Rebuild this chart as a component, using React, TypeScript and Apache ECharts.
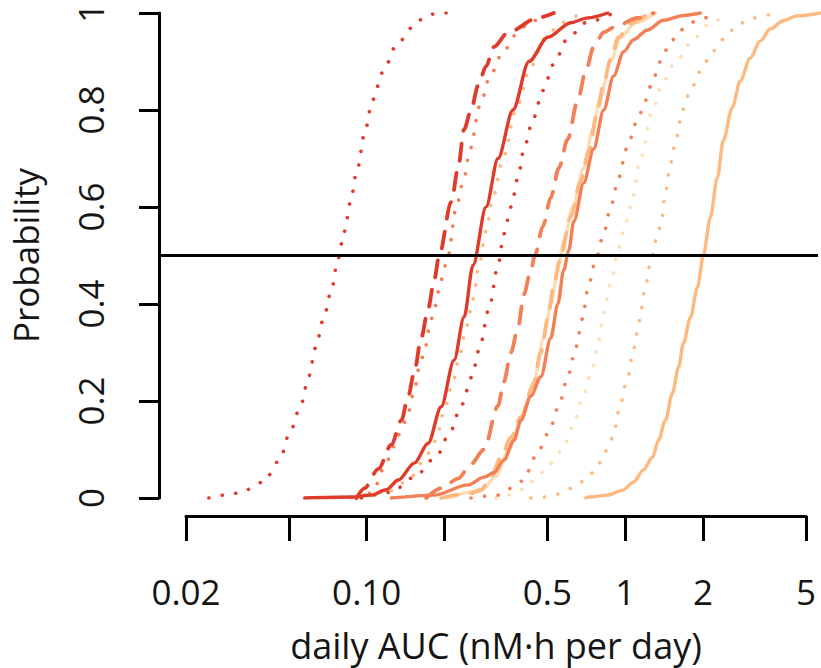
import React, { useEffect, useRef } from "react";
import * as echarts from "echarts";

// ---- axis ticks / labels ----
const xTickValues = [0.02, 0.05, 0.1, 0.2, 0.5, 1, 2, 5];
const xLabelValues = [0.02, 0.1, 0.5, 1, 2, 5];
const xLabelTexts = ["0.02", "0.10", "0.5", "1", "2", "5"];
const yTickValues = [0, 0.2, 0.4, 0.6, 0.8, 1];
const xMin = 0.01563;
const xMax = 5.627;

// ---- curves: daily AUC (x) and probability (y) ----
const aucA = [0.0244, 0.0319, 0.0398, 0.0459, 0.0502, 0.0554, 0.0595, 0.0633, 0.068, 0.073, 0.077, 0.0819, 0.0864, 0.0912, 0.0988, 0.105, 0.116, 0.129, 0.15, 0.166, 0.186, 0.214];
const probA = [0, 0.01, 0.033, 0.078, 0.134, 0.19, 0.25, 0.31, 0.37, 0.43, 0.49, 0.55, 0.61, 0.67, 0.76, 0.82, 0.88, 0.93, 0.97, 0.99, 1, 1];

const aucB = [0.0912, 0.0979, 0.1109, 0.1245, 0.1361, 0.1448, 0.1528, 0.1626, 0.173, 0.1826, 0.1909, 0.2125, 0.2261, 0.2384, 0.2538, 0.2701, 0.2901, 0.3113, 0.3528, 0.4609, 0.5315];
const probB = [0, 0.02, 0.06, 0.11, 0.16, 0.21, 0.26, 0.33, 0.39, 0.45, 0.5, 0.61, 0.68, 0.76, 0.8, 0.85, 0.89, 0.93, 0.96, 0.99, 1];

const aucC = [0.0912, 0.1042, 0.1212, 0.1325, 0.1422, 0.1528, 0.1597, 0.167, 0.1762, 0.1826, 0.1943, 0.2068, 0.2221, 0.2384, 0.2516, 0.275, 0.3006, 0.3375, 0.3857, 0.4254, 0.495];
const probC = [0, 0.01, 0.08, 0.13, 0.16, 0.22, 0.27, 0.3, 0.36, 0.39, 0.45, 0.5, 0.6, 0.66, 0.72, 0.81, 0.87, 0.92, 0.96, 0.98, 1];

const aucD = [0.0574, 0.0872, 0.1042, 0.1191, 0.1325, 0.1528, 0.173, 0.1943, 0.218, 0.2384, 0.2584, 0.2901, 0.3228, 0.3689, 0.4254, 0.5038, 0.618, 0.719, 0.86];
const probD = [0, 0.002, 0.006, 0.017, 0.037, 0.072, 0.113, 0.188, 0.284, 0.373, 0.48, 0.6, 0.7, 0.8, 0.9, 0.95, 0.98, 0.99, 1];

const aucE = [0.0872, 0.1245, 0.1488, 0.1626, 0.1746, 0.186, 0.1995, 0.2163, 0.2281, 0.2427, 0.2584, 0.2725, 0.2901, 0.3087, 0.3375, 0.3789, 0.433, 0.495, 0.5655, 0.676];
const probE = [0, 0.015, 0.043, 0.072, 0.093, 0.12, 0.18, 0.24, 0.29, 0.35, 0.41, 0.48, 0.55, 0.62, 0.7, 0.8, 0.89, 0.95, 0.98, 1];

const aucF = [0.0953, 0.1245, 0.1528, 0.186, 0.2105, 0.2322, 0.2561, 0.2725, 0.2979, 0.3228, 0.3405, 0.3624, 0.3857, 0.4069, 0.4407, 0.4819, 0.5315, 0.5967, 0.7067, 0.9068];
const probF = [0, 0.012, 0.043, 0.085, 0.136, 0.19, 0.25, 0.305, 0.39, 0.48, 0.545, 0.6, 0.66, 0.72, 0.78, 0.84, 0.895, 0.945, 0.98, 1];

const aucG = [0.17, 0.1943, 0.2261, 0.2538, 0.2849, 0.3228, 0.3405, 0.3624, 0.3857, 0.4069, 0.433, 0.4487, 0.4819, 0.5174, 0.5556, 0.602, 0.658, 0.7067, 0.7587, 0.8294, 0.9068, 1.123, 1.295];
const probG = [0, 0.02, 0.04, 0.07, 0.1, 0.19, 0.24, 0.3, 0.35, 0.42, 0.47, 0.5, 0.56, 0.62, 0.68, 0.74, 0.82, 0.88, 0.93, 0.96, 0.97, 0.99, 1];

const aucH = [0.1943, 0.2538, 0.2774, 0.3033, 0.3315, 0.3624, 0.3962, 0.4407, 0.4733, 0.5038, 0.5315, 0.5655, 0.618, 0.676, 0.7258, 0.7863, 0.8294, 0.8828, 0.948, 1.055, 1.227, 1.341];
const probH = [0, 0.01, 0.017, 0.043, 0.084, 0.125, 0.167, 0.23, 0.3, 0.37, 0.44, 0.5, 0.58, 0.655, 0.715, 0.8, 0.855, 0.905, 0.95, 0.978, 0.995, 1];

const aucI = [0.1245, 0.1826, 0.2471, 0.2849, 0.3113, 0.3405, 0.3722, 0.3962, 0.433, 0.4733, 0.5174, 0.5507, 0.5808, 0.6074, 0.635, 0.6943, 0.7587, 0.8294, 0.9068, 0.9911, 1.083, 1.227, 1.415, 1.691, 1.967];
const probI = [0, 0.006, 0.027, 0.043, 0.052, 0.078, 0.119, 0.16, 0.21, 0.25, 0.33, 0.4, 0.47, 0.51, 0.57, 0.65, 0.72, 0.8, 0.87, 0.92, 0.945, 0.965, 0.985, 0.995, 1];

const aucN = [0.2032, 0.2774, 0.317, 0.3559, 0.3962, 0.4446, 0.4862, 0.5174, 0.5507, 0.5808, 0.6294, 0.6943, 0.7519, 0.8077, 0.8828, 0.965, 1.103, 1.318];
const probN = [0, 0.015, 0.045, 0.1, 0.16, 0.24, 0.33, 0.4, 0.47, 0.53, 0.6, 0.68, 0.76, 0.83, 0.9, 0.95, 0.98, 1];

const aucJ = [0.2538, 0.3228, 0.4033, 0.4527, 0.5084, 0.5556, 0.602, 0.6463, 0.6878, 0.719, 0.7725, 0.8294, 0.8828, 0.948, 1.018, 1.123, 1.206, 1.283, 1.378, 1.506, 1.647, 1.916, 2.249];
const probJ = [0, 0.006, 0.035, 0.086, 0.135, 0.19, 0.25, 0.31, 0.37, 0.43, 0.49, 0.545, 0.6, 0.66, 0.72, 0.78, 0.82, 0.86, 0.9, 0.94, 0.965, 0.985, 1];

const aucK = [0.317, 0.3528, 0.4033, 0.4819, 0.5655, 0.635, 0.6878, 0.7455, 0.7931, 0.8294, 0.8828, 0.9395, 0.9911, 1.055, 1.153, 1.283, 1.415, 1.575, 1.882, 2.15, 2.524];
const probK = [0, 0.006, 0.018, 0.053, 0.095, 0.15, 0.208, 0.263, 0.323, 0.383, 0.442, 0.505, 0.55, 0.6, 0.7, 0.8, 0.86, 0.9, 0.95, 0.98, 1];

const aucL = [0.433, 0.4862, 0.5507, 0.6237, 0.6943, 0.7587, 0.8148, 0.86, 0.9068, 0.9565, 1.027, 1.083, 1.143, 1.195, 1.26, 1.341, 1.39, 1.44, 1.506, 1.589, 1.676, 1.8, 1.967, 2.189, 2.415, 2.76, 3.154, 3.605, 4.011];
const probL = [0, 0.002, 0.008, 0.02, 0.035, 0.053, 0.076, 0.103, 0.13, 0.187, 0.247, 0.307, 0.366, 0.426, 0.486, 0.54, 0.572, 0.63, 0.69, 0.743, 0.8, 0.84, 0.88, 0.92, 0.946, 0.977, 0.99, 0.996, 1];

const aucM = [0.7067, 0.7258, 0.86, 0.9823, 1.083, 1.184, 1.283, 1.353, 1.44, 1.533, 1.618, 1.691, 1.8, 1.916, 2.021, 2.15, 2.289, 2.415, 2.616, 2.81, 3.071, 3.357, 3.669, 4.12, 4.667, 5.727];
const probM = [0, 0.002, 0.006, 0.016, 0.033, 0.058, 0.084, 0.119, 0.16, 0.216, 0.269, 0.319, 0.372, 0.434, 0.5, 0.578, 0.66, 0.737, 0.805, 0.86, 0.907, 0.942, 0.967, 0.984, 0.994, 1];

const RED = "#e03a2a";
const ORANGE = "#f37f55";
const LIGHT = "#fdb97f";
const CREAM = "#fddcb6";

type Curve = { name: string; auc: number[]; prob: number[]; color: string; kind: "solid" | "dashed" | "dotted" };

const curves: Curve[] = [
  { name: "K", auc: aucK, prob: probK, color: CREAM, kind: "dotted" },
  { name: "N", auc: aucN, prob: probN, color: CREAM, kind: "solid" },
  { name: "M", auc: aucM, prob: probM, color: LIGHT, kind: "solid" },
  { name: "L", auc: aucL, prob: probL, color: LIGHT, kind: "dotted" },
  { name: "E", auc: aucE, prob: probE, color: LIGHT, kind: "dotted" },
  { name: "H", auc: aucH, prob: probH, color: LIGHT, kind: "dashed" },
  { name: "I", auc: aucI, prob: probI, color: ORANGE, kind: "solid" },
  { name: "G", auc: aucG, prob: probG, color: ORANGE, kind: "dashed" },
  { name: "J", auc: aucJ, prob: probJ, color: ORANGE, kind: "dotted" },
  { name: "C", auc: aucC, prob: probC, color: ORANGE, kind: "dotted" },
  { name: "F", auc: aucF, prob: probF, color: RED, kind: "dotted" },
  { name: "A", auc: aucA, prob: probA, color: RED, kind: "dotted" },
  { name: "B", auc: aucB, prob: probB, color: RED, kind: "dashed" },
  { name: "D", auc: aucD, prob: probD, color: RED, kind: "solid" },
];

const FONT = "'Open Sans', 'Noto Sans', sans-serif";
const TXT = "#151515";

export default function App() {
  const ref = useRef<HTMLDivElement>(null);
  useEffect(() => {
    if (!ref.current) return;
    const chart = echarts.init(ref.current, undefined, { renderer: "svg" });
    const series: any[] = curves.map((c) => ({
      name: c.name,
      type: "line",
      xAxisIndex: 0,
      yAxisIndex: 0,
      data: c.auc.map((a, k) => [a, c.prob[k]]),
      showSymbol: false,
      smooth: 0.3,
      smoothMonotone: "x",
      clip: true,
      lineStyle: {
        color: c.color,
        width: c.kind === "dotted" ? 3.6 : c.kind === "dashed" ? 3.8 : 3.4,
        type: c.kind === "solid" ? "solid" : c.kind === "dashed" ? [17, 13] : [0.1, 13.5],
        cap: "round",
        join: "round",
      },
      z: 2,
      silent: true,
    }));
    series[series.length - 1].markLine = {
      silent: true,
      symbol: ["none", "none"],
      label: { show: false },
      lineStyle: { color: "#000", width: 3, type: "solid" },
      data: [{ yAxis: 0.5 }],
    };
    chart.setOption({
      animation: false,
      grid: [
        { left: 157, right: 3, top: 12, bottom: 170 },
        { left: 186, right: 15, top: 12, bottom: 170 },
      ],
      xAxis: [
        { type: "log", gridIndex: 0, logBase: 10, min: xMin, max: xMax, show: false },
        {
          type: "value",
          gridIndex: 1,
          min: Math.log10(0.02) - 1e-9,
          max: Math.log10(5) + 1e-9,
          offset: 18,
          axisLine: { show: true, onZero: false, lineStyle: { color: "#000", width: 3 } },
          axisTick: {
            show: true,
            length: 25,
            lineStyle: { color: "#000", width: 3 },
            customValues: xTickValues.map((v) => Math.log10(v)),
          },
          axisLabel: {
            customValues: xLabelValues.map((v) => Math.log10(v)),
            formatter: (v: number) => {
              const i = xLabelValues.findIndex((t) => Math.abs(Math.log10(t) - v) < 1e-6);
              return i >= 0 ? xLabelTexts[i] : "";
            },
            margin: 58,
            fontSize: 35,
            fontFamily: FONT,
            color: TXT,
          },
          splitLine: { show: false },
          name: "daily AUC (nM·h per day)",
          nameLocation: "middle",
          nameGap: 111,
          nameTextStyle: { fontSize: 36, fontFamily: FONT, color: TXT },
        },
      ],
      yAxis: [
        {
          type: "value",
          gridIndex: 0,
          min: 0,
          max: 1,
          interval: 0.2,
          axisLine: { show: true, onZero: false, lineStyle: { color: "#000", width: 3 } },
          axisTick: { show: true, length: 20, lineStyle: { color: "#000", width: 3 }, customValues: yTickValues },
          axisLabel: {
            rotate: 90,
            margin: 51,
            fontSize: 35,
            fontFamily: FONT,
            color: TXT,
            customValues: yTickValues,
          },
          splitLine: { show: false },
          name: "Probability",
          nameLocation: "middle",
          nameGap: 116,
          nameTextStyle: { fontSize: 35, fontFamily: FONT, color: TXT },
        },
        { type: "value", gridIndex: 1, min: 0, max: 1, show: false },
      ],
      series,
    });
    return () => chart.dispose();
  }, []);
  return (
    <div
      ref={ref}
      style={{ position: "fixed", left: 0, top: 0, width: 821, height: 668, background: "#fff" }}
    />
  );
}
